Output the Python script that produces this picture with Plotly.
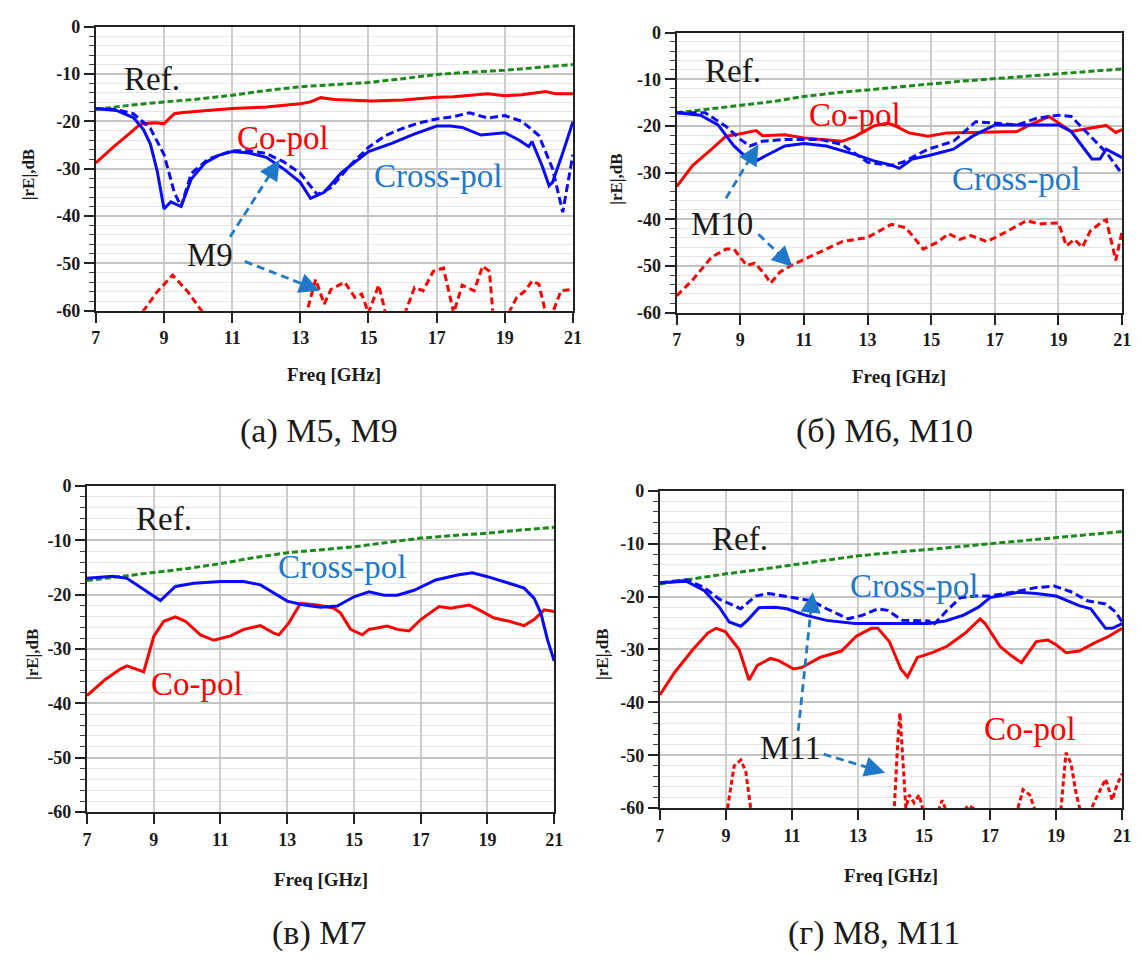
import math
import plotly.graph_objects as go

W, H = 1142, 965

X_TICKS = [7, 9, 11, 13, 15, 17, 19, 21]
Y_TICKS = [0, -10, -20, -30, -40, -50, -60]

REF_X = [7, 8, 9, 10, 11, 12, 13, 14, 15, 16, 17, 18, 19, 20, 21]

# ---------------- panel (a) M5, M9 ----------------
a_ref = [-17.5, -16.6, -15.9, -15.3, -14.5, -13.5, -12.7, -12.2, -11.8, -11.0, -10.1, -9.6, -9.2, -8.6, -8.0]
a_co_x = [7, 7.5, 8.0, 8.3, 8.7, 9.0, 9.3, 9.5, 10, 11, 12, 13, 13.3, 13.6, 14, 15.1, 16, 17, 17.5, 18.5, 19, 19.5, 20.2, 20.5, 21]
a_co_y = [-28.8, -25.5, -22.5, -20.6, -20.3, -20.5, -18.4, -18.2, -17.9, -17.3, -17.0, -16.3, -15.9, -15.0, -15.4, -15.7, -15.5, -14.9, -14.8, -14.2, -14.6, -14.4, -13.7, -14.2, -14.2]
a_xs_x = [7, 7.6, 8.1, 8.4, 8.6, 8.8, 9.0, 9.2, 9.5, 9.8, 10.2, 10.6, 11, 11.5, 12, 12.5, 13, 13.3, 13.7, 14.2, 15, 15.7, 16.3, 17, 17.4, 17.75, 18.3, 19, 19.4, 19.7, 19.8, 20.1, 20.3, 20.4, 20.7, 21]
a_xs_y = [-17.3, -17.7, -19.2, -21.8, -24.8, -30.5, -38.5, -37, -38, -32.2, -28.8, -27.2, -26.4, -26.7, -27.6, -30, -32.9, -36.3, -35, -30.9, -26.4, -24.6, -22.8, -21, -21.0, -21.3, -22.9, -22.4, -23.9, -25.3, -24.3, -29.5, -33.6, -32.9, -26.7, -20.1]
a_xd_x = [7, 7.6, 8.1, 8.6, 9.0, 9.3, 9.5, 9.8, 10.3, 11, 11.5, 12, 12.5, 13, 13.5, 13.9, 14.5, 15, 15.5, 16, 16.5, 17, 17.5, 17.96, 18.5, 19, 19.5, 20, 20.4, 20.7, 21]
a_xd_y = [-17.3, -17.5, -18.4, -21.5, -27, -35, -38, -31, -28, -26.2, -26.2, -26.8, -28.5, -31, -35.5, -34, -29, -25.5, -23, -21.5, -20.3, -19.5, -19, -18.2, -19.3, -18.8, -20.0, -23, -30, -39.2, -27]
a_cd_x = [7, 7.8, 8.4, 8.8, 9.25, 9.7, 10.1, 10.8, 12.0, 12.9, 13.2, 13.45, 13.7, 13.9, 14.3, 14.6, 14.8, 15.0, 15.3, 15.5, 15.8, 16.1, 16.35, 16.6, 16.9, 17.2, 17.5, 17.75, 18.1, 18.35, 18.55, 18.65, 18.9, 19.15, 19.35, 19.6, 19.8, 20.0, 20.2, 20.4, 20.65, 21]
a_cd_y = [-70, -65, -60, -56, -52.5, -56, -60, -65, -68, -64, -60, -53.4, -58.6, -55.5, -54, -57.2, -56.5, -60.5, -54.6, -60.5, -63, -60, -55.1, -55.8, -51.7, -51, -60.5, -54.6, -55.8, -50.6, -51.7, -60.5, -63, -60, -57.2, -55.8, -53.7, -54.4, -60.5, -60.5, -55.8, -55.5]

# ---------------- panel (б) M6, M10 ----------------
b_ref = [-17.2, -16.4, -15.6, -14.8, -13.7, -12.9, -12.3, -11.6, -11.0, -10.4, -9.9, -9.4, -8.95, -8.4, -7.8]
b_co_x = [7, 7.5, 8.1, 8.55, 9.0, 9.5, 9.7, 10.4, 11, 11.5, 12.2, 12.6, 13.2, 13.65, 13.9, 14.3, 14.9, 15.5, 16.2, 17, 17.7, 18.0, 18.7, 19.4, 19.85, 20.3, 20.5, 20.8, 21]
b_co_y = [-33, -28.5, -25, -22.2, -21.7, -21, -22.1, -21.9, -22.6, -22.9, -23.3, -22.3, -20, -19.4, -20.1, -21.5, -22.2, -21.5, -21.4, -21.4, -21.2, -20.1, -18, -21.2, -20.7, -20.1, -19.9, -21.4, -20.8]
b_xs_x = [7, 7.75, 8.3, 8.8, 9.2, 9.5, 9.8, 10.4, 11, 11.7, 12.6, 13.2, 13.75, 14.0, 14.4, 14.9, 15.7, 16.3, 17, 17.7, 19, 19.4, 19.75, 20.05, 20.3, 20.5, 21]
b_xs_y = [-17.2, -17.7, -19.8, -24.3, -26.8, -27.5, -26.4, -24.3, -23.8, -24.3, -26.1, -27.5, -28.4, -29.1, -27.1, -26.4, -25, -22.2, -19.8, -19.8, -19.8, -21.2, -24.3, -27.1, -27.1, -25, -26.8]
b_xd_x = [7, 7.9, 8.55, 9.0, 9.3, 9.7, 10.4, 11.5, 12.2, 13, 13.75, 14.1, 14.9, 15.7, 16.4, 17, 17.7, 18.3, 19, 19.4, 19.9, 20.5, 21]
b_xd_y = [-17.2, -17.2, -20.1, -22.9, -24.3, -23.3, -22.9, -22.9, -24, -27.8, -28.5, -27.8, -25, -23.3, -19.1, -19.4, -19.8, -18.4, -17.7, -18.0, -21.5, -25.7, -30.3]
b_cd_x = [7, 7.5, 8.1, 8.55, 8.8, 9.2, 9.45, 9.75, 9.95, 10.25, 10.6, 11.5, 12.2, 13, 13.4, 13.75, 14.2, 14.75, 15.2, 15.55, 15.9, 16.25, 16.75, 17.3, 18, 18.4, 19, 19.25, 19.5, 19.75, 20, 20.4, 20.5, 20.8, 21]
b_cd_y = [-56.4, -53, -48.1, -46.4, -46.4, -49.9, -49.4, -51.6, -53.7, -51.3, -49.9, -47.1, -44.8, -43.9, -42.5, -41.1, -41.8, -46.4, -44.9, -43.1, -44.3, -43.5, -44.8, -42.9, -40.3, -41, -40.8, -45.7, -44.3, -46, -42.5, -40.4, -40.1, -48.8, -42.5]

# ---------------- panel (в) M7 ----------------
c_ref = [-17.4, -16.7, -16.0, -15.2, -14.3, -13.2, -12.3, -11.7, -11.2, -10.4, -9.6, -9.1, -8.7, -8.1, -7.6]
c_xs_x = [7, 7.77, 8.2, 8.87, 9.2, 9.65, 10.2, 11, 11.7, 12.2, 13, 13.5, 14, 14.5, 15, 15.45, 15.9, 16.3, 16.8, 17.45, 18.1, 18.55, 19, 19.65, 20.1, 20.4, 20.6, 20.8, 21]
c_xs_y = [-17, -16.6, -17, -19.8, -21.1, -18.5, -17.9, -17.6, -17.6, -18.2, -21.2, -21.9, -22.3, -22.1, -20.4, -19.5, -20.1, -20.1, -19.2, -17.3, -16.4, -16, -16.7, -17.9, -18.8, -20.7, -23.4, -28.3, -32.2]
c_co_x = [7, 7.55, 8, 8.2, 8.43, 8.7, 9, 9.3, 9.65, 9.95, 10.4, 10.8, 11.3, 11.7, 12.2, 12.6, 12.75, 13.05, 13.4, 13.9, 14.4, 14.6, 14.9, 15.25, 15.45, 16, 16.3, 16.65, 17, 17.55, 17.9, 18.45, 18.75, 19.2, 19.65, 20.1, 20.4, 20.7, 21]
c_co_y = [-38.6, -35.6, -33.7, -33.1, -33.6, -34.2, -27.7, -24.9, -24.1, -24.9, -27.4, -28.4, -27.6, -26.4, -25.7, -27.1, -27.4, -25.2, -21.6, -21.9, -22.5, -23.4, -26.4, -27.4, -26.4, -25.8, -26.4, -26.7, -24.6, -22.2, -22.5, -21.9, -22.8, -24.3, -24.9, -25.7, -24.6, -22.8, -23.1]

# ---------------- panel (г) M8, M11 ----------------
d_ref = [-17.6, -16.6, -15.7, -14.9, -14.0, -13.1, -12.3, -11.7, -11.2, -10.6, -10.0, -9.4, -8.8, -8.2, -7.7]
d_xs_x = [7, 7.8, 8.35, 8.8, 9.1, 9.45, 9.65, 10, 10.5, 10.85, 11.4, 12.05, 12.9, 14, 15.1, 15.65, 16.2, 16.65, 17, 17.85, 18.4, 19, 19.7, 20.05, 20.5, 20.7, 21]
d_xs_y = [-17.4, -17.1, -18.9, -22, -24.8, -25.6, -24.5, -22.1, -22, -22.3, -23.5, -24.5, -25.1, -25.1, -25.1, -24.6, -23.5, -22, -20.2, -19.2, -19.4, -19.9, -21.7, -22.3, -26, -26, -25.1]
d_xd_x = [7, 7.8, 8.35, 8.8, 9.45, 9.9, 10.3, 11, 11.6, 12.05, 12.7, 13.15, 13.6, 13.9, 14.35, 15.15, 15.25, 15.7, 16.1, 16.55, 17, 17.65, 18.4, 18.95, 19.5, 19.95, 20.5, 20.8, 21]
d_xd_y = [-17.4, -16.8, -18.3, -20.5, -22.3, -19.9, -19.4, -20.2, -20.8, -22.3, -24.2, -23.5, -22.3, -22.6, -24.5, -24.6, -25.6, -22.6, -20.2, -19.9, -19.9, -19.2, -18.3, -18, -19.2, -20.8, -21.4, -22.9, -24.8]
d_co_x = [7, 7.45, 8, 8.45, 8.7, 8.98, 9.4, 9.7, 9.95, 10.35, 10.6, 11.05, 11.3, 11.85, 12.5, 12.95, 13.4, 13.6, 13.95, 14.3, 14.5, 14.8, 15.25, 15.7, 16.25, 16.7, 16.85, 17.3, 17.65, 17.95, 18.4, 18.75, 19, 19.3, 19.7, 20.15, 20.6, 21]
d_co_y = [-38.6, -34.3, -30, -26.9, -26, -26.6, -30, -35.8, -33, -31.7, -32.1, -33.7, -33.4, -31.5, -30.3, -27.5, -26, -26, -28.5, -33.7, -35.2, -31.5, -30.6, -29.4, -26.9, -24.2, -25.1, -29.4, -31.2, -32.5, -28.5, -28.2, -29.1, -30.6, -30.3, -28.8, -27.5, -26]
d_cd_x = [7, 8.5, 9.05, 9.25, 9.45, 9.6, 9.75, 10.5, 13.5, 14.1, 14.2, 14.27, 14.35, 14.45, 14.55, 14.7, 14.85, 15.0, 15.4, 15.55, 15.7, 16.0, 16.2, 16.35, 17.0, 17.8, 18.0, 18.2, 18.4, 19.0, 19.15, 19.3, 19.45, 19.6, 19.75, 20.0, 20.3, 20.5, 20.7, 20.85, 21]
d_cd_y = [-70, -65, -60, -52, -50.9, -53, -60, -66, -66, -60, -48, -42, -50, -60, -57.5, -59, -57.5, -61, -61, -58.5, -61, -63, -60.5, -59.5, -62, -61, -56.5, -57.5, -61, -61, -60, -49.5, -51.5, -57, -61, -61, -57, -54.5, -58.5, -55.5, -53.5]

# ---------------- styling ----------------
FONT = "Liberation Serif, Times New Roman, DejaVu Serif, serif"
RED = "#ff0000"
BLUE = "#0a0aff"
GREEN = "#1b8a1b"
LBLUE = "#1f78c8"
INK = "#1a1a1a"

# panel pixel boxes: (x0, x1), (ytop, ybottom)
PANELS = {
    "a": ("x", "y", (92, 575), (17, 307)),
    "b": ("x2", "y2", (680, 1131), (23, 309)),
    "c": ("x3", "y3", (83, 556), (486, 819)),
    "d": ("x4", "y4", (663, 1131), (491, 815)),
}

fig = go.Figure()


def line(panel, xs, ys, color, dash=None, width=3):
    xa, ya, _, _ = PANELS[panel]
    fig.add_trace(go.Scatter(x=xs, y=ys, mode="lines", xaxis=xa, yaxis=ya,
                             line=dict(color=color, width=width, dash=dash or "solid"),
                             hoverinfo="skip", showlegend=False))


# panel a
line("a", REF_X, a_ref, GREEN, "6px,3px", 3)
line("a", a_co_x, a_co_y, RED)
line("a", a_cd_x, a_cd_y, RED, "7px,4px")
line("a", a_xs_x, a_xs_y, BLUE)
line("a", a_xd_x, a_xd_y, BLUE, "8px,4px")
# panel b
line("b", REF_X, b_ref, GREEN, "6px,3px", 3)
line("b", b_co_x, b_co_y, RED)
line("b", b_cd_x, b_cd_y, RED, "7px,4px")
line("b", b_xs_x, b_xs_y, BLUE)
line("b", b_xd_x, b_xd_y, BLUE, "8px,4px")
# panel c
line("c", REF_X, c_ref, GREEN, "6px,3px", 3)
line("c", c_co_x, c_co_y, RED)
line("c", c_xs_x, c_xs_y, BLUE)
# panel d
line("d", REF_X, d_ref, GREEN, "6px,3px", 3)
line("d", d_co_x, d_co_y, RED)
line("d", d_cd_x, d_cd_y, RED, "5px,3px")
line("d", d_xs_x, d_xs_y, BLUE)
line("d", d_xd_x, d_xd_y, BLUE, "8px,4px")

layout = dict(width=W, height=H, margin=dict(l=0, r=0, t=0, b=0),
              paper_bgcolor="white", plot_bgcolor="white", showlegend=False)

for key, (xa, ya, (x0, x1), (yt, yb)) in PANELS.items():
    xname = "xaxis" + xa[1:]
    yname = "yaxis" + ya[1:]
    layout[xname] = dict(domain=[x0 / W, x1 / W], range=[7, 21], anchor=ya,
                         tickmode="array", tickvals=X_TICKS, ticktext=[str(v) for v in X_TICKS],
                         ticks="outside", ticklen=10, tickwidth=1.5, tickcolor="#222",
                         showline=True, linecolor="#222", linewidth=2, mirror=True,
                         showgrid=True, gridcolor="#cdcdcd", gridwidth=1.5, zeroline=False,
                         tickfont=dict(family=FONT, size=18, color=INK, weight="bold"))
    layout[yname] = dict(domain=[1 - yb / H, 1 - yt / H], range=[-60, 0], anchor=xa,
                         tickmode="array", tickvals=Y_TICKS, ticktext=[str(v) for v in Y_TICKS],
                         ticks="outside", ticklen=10, tickwidth=1.5, tickcolor="#222",
                         showline=True, linecolor="#222", linewidth=2, mirror=True,
                         showgrid=True, gridcolor="#c4c4c4", gridwidth=1.5, zeroline=False,
                         minor=dict(tick0=0, dtick=2, ticks="outside", ticklen=5, tickwidth=1.2,
                                    tickcolor="#444", showgrid=True, gridcolor="#e6e6e6", gridwidth=1),
                         tickfont=dict(family=FONT, size=18, color=INK, weight="bold"))

annotations = []
shapes = []


def text(panel, x, y, s, color, size=33):
    xa, ya, _, _ = PANELS[panel]
    annotations.append(dict(x=x, y=y, xref=xa, yref=ya, text=s, showarrow=False,
                            font=dict(family=FONT, size=size, color=color),
                            xanchor="center", yanchor="middle"))


def arrow(panel, x0, y0, x1, y1):
    xa, ya, (px0, px1), (pyt, pyb) = PANELS[panel]
    sx = (px1 - px0) / 14.0
    sy = (pyb - pyt) / 60.0
    dx = (x1 - x0) * sx
    dy = -(y1 - y0) * sy
    n = math.hypot(dx, dy)
    ux, uy = dx / n, dy / n
    shapes.append(dict(type="line", xref=xa, yref=ya, x0=x0, y0=y0,
                       x1=x1 - ux * 8 / sx, y1=y1 + uy * 8 / sy,
                       line=dict(color=LBLUE, width=2.8, dash="8px,5px")))
    L = 16
    annotations.append(dict(x=x1, y=y1, xref=xa, yref=ya, text="", showarrow=True,
                            ax=-ux * L, ay=-uy * L, arrowhead=2, arrowsize=1.7,
                            arrowwidth=2.4, arrowcolor=LBLUE))


# panel a annotations
text("a", 8.64, -11.1, "Ref.", INK)
text("a", 12.5, -23.6, "Co-pol", RED)
text("a", 17.05, -31.6, "Cross-pol", LBLUE)
text("a", 10.35, -48.2, "M9", INK)
arrow("a", 10.94, -44.4, 12.39, -28.1)
arrow("a", 11.37, -49.6, 13.57, -55.8)
# panel b annotations
text("b", 8.78, -8.25, "Ref.", INK)
text("b", 12.62, -17.7, "Co-pol", RED)
text("b", 17.66, -31.3, "Cross-pol", LBLUE)
text("b", 8.44, -41.1, "M10", INK)
arrow("b", 8.55, -35.5, 9.57, -24.0)
arrow("b", 9.57, -43.2, 10.64, -50.2)
# panel c annotations
text("c", 9.31, -6.1, "Ref.", INK)
text("c", 14.64, -14.9, "Cross-pol", LBLUE)
text("c", 10.3, -36.5, "Co-pol", RED)
# panel d annotations
text("d", 9.43, -9.1, "Ref.", INK)
text("d", 14.7, -18.0, "Cross-pol", LBLUE)
text("d", 18.2, -45.1, "Co-pol", RED)
text("d", 10.97, -48.7, "M11", INK)
arrow("d", 11.19, -45.4, 11.63, -19.2)
arrow("d", 11.96, -49.8, 13.82, -53.3)


def paper_text(px, py, s, size, bold=False, angle=0):
    annotations.append(dict(x=px / W, y=1 - py / H, xref="paper", yref="paper", text=s,
                            showarrow=False, textangle=angle,
                            font=dict(family=FONT, size=size, color=INK,
                                      weight="bold" if bold else "normal"),
                            xanchor="center", yanchor="middle"))


# axis titles
for px, py in [(333, 372), (905, 374), (320, 888), (897, 884)]:
    paper_text(px, py, "Freq [GHz]", 19, bold=True)
for px, py in [(24, 168), (619, 173), (28, 658), (605, 658)]:
    paper_text(px, py, "|rE|,dB", 17, bold=True, angle=-90)

# captions
paper_text(318, 430, "(а) M5, M9", 34)
paper_text(890, 430, "(б) M6, M10", 34)
paper_text(318, 943, "(в) M7", 34)
paper_text(880, 943, "(г) M8, M11", 34)

layout["annotations"] = annotations
layout["shapes"] = shapes
fig.update_layout(**layout)
fig.write_html("out.html")
